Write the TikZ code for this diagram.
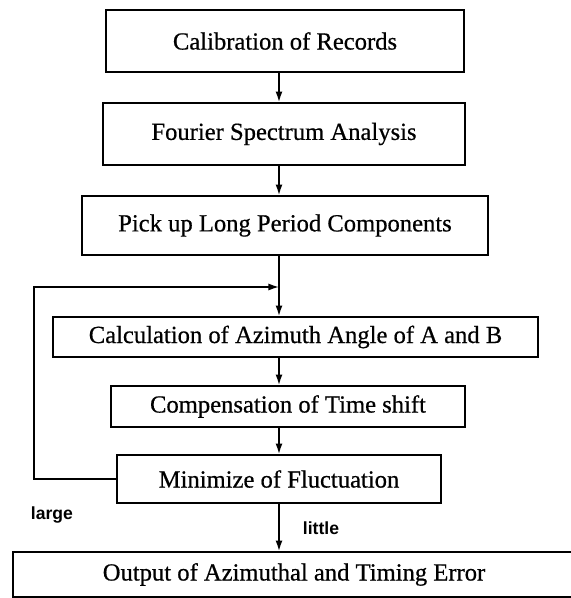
\documentclass[tikz,border=0pt]{standalone}
\usepackage{fontspec}
\setmainfont{Liberation Serif}
\newfontface\stepfont{Liberation Serif}[FakeBold=0.6]
\newfontfamily\labelfont{Liberation Sans}
\usetikzlibrary{arrows.meta}

\begin{document}
\begin{tikzpicture}[x=0.03cm,y=-0.03cm,
  stepbox/.style={draw,line width=1.6pt,rectangle,inner sep=0pt,font=\stepfont\fontsize{21}{25}\selectfont},
  flow/.style={line width=1.3pt,-{Latex[length=9pt,width=6pt]}},
  branch/.style={font=\labelfont\bfseries\fontsize{15}{17}\selectfont}]
\useasboundingbox (0,0) rectangle (571,598);
\coordinate (spine) at (279,0);
\coordinate (ret) at (34,287);
% the steps
\node [stepbox,minimum width=10.74cm,minimum height=1.86cm] (calib) at (285,41) {Calibration of Records};
\node [stepbox,minimum width=10.86cm,minimum height=1.86cm] (fourier) at (284,134) {Fourier Spectrum Analysis};
\node [stepbox,minimum width=12.18cm,minimum height=1.77cm] (pick) at (285,225.5) {Pick up Long Period Components};
\node [stepbox,minimum width=14.55cm,minimum height=1.2cm] (azim) at (295.5,337) {Calculation of Azimuth Angle of A and B};
\node [stepbox,minimum width=10.62cm,minimum height=1.23cm] (comp) at (288,406.5) {Compensation of Time shift};
\node [stepbox,minimum width=9.72cm,minimum height=1.44cm] (minim) at (279,479) {Minimize of Fluctuation};
\node [stepbox,minimum width=16.86cm,minimum height=1.35cm] (output) at (294,574.5) {Output of Azimuthal and Timing Error};
\node [branch] (large) at (52,515) {large};
\node [branch] (little) at (321,528) {little};
% connectors
\draw [flow] (calib.south -| spine) -- (fourier.north -| spine);
\draw [flow] (fourier.south -| spine) -- (pick.north -| spine);
\draw [flow] (pick.south -| spine) -- (azim.north -| spine);
\draw [flow] (azim.south -| spine) -- (comp.north -| spine);
\draw [flow] (comp.south -| spine) -- (minim.north -| spine);
\draw [flow] (minim.south -| spine) -- (output.north -| spine);
\draw [flow] (minim.west) -| (ret) -- (ret -| spine);
\end{tikzpicture}
\end{document}
